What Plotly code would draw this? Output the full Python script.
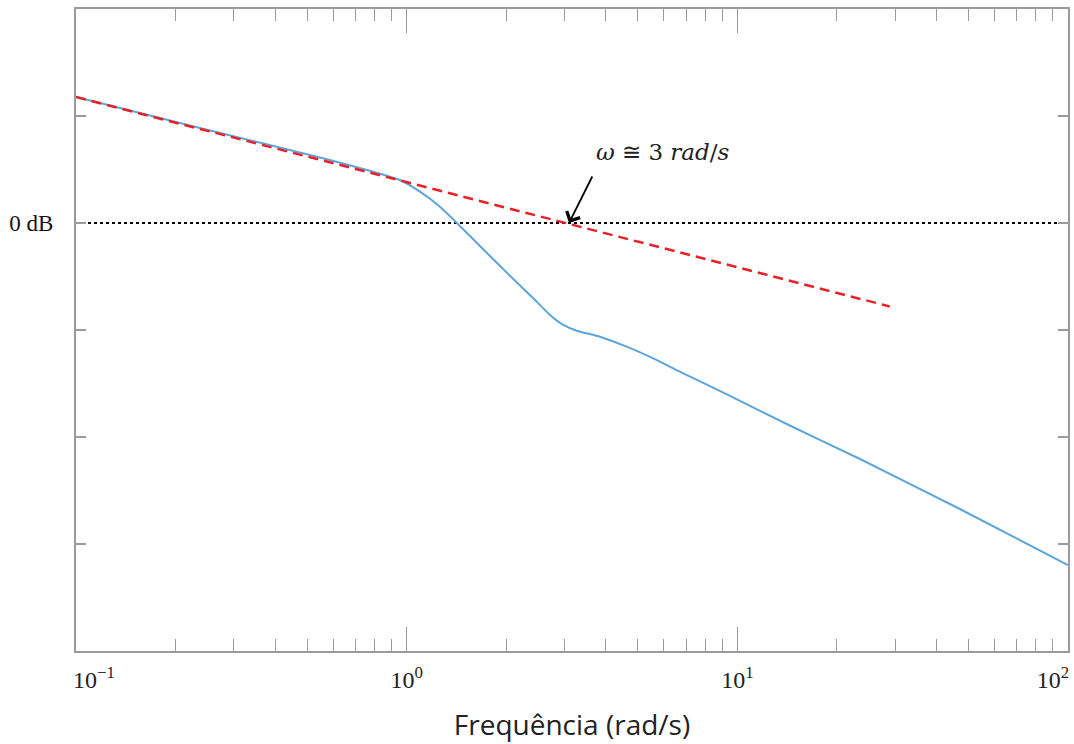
import plotly.graph_objects as go

# Blue magnitude curve (frequency in rad/s, magnitude in dB)
w_sys = [0.1, 0.237, 0.586, 0.954, 1.097, 1.261, 1.416, 1.704, 2.053, 2.414, 2.713,
         2.976, 3.266, 3.842, 4.626, 5.567, 6.863, 9.30, 14.72, 23.5, 47.1, 100.0]
db_sys = [23.55, 17.76, 11.78, 8.04, 5.85, 3.05, 0.06, -4.9, -9.87, -14.07, -17.19,
          -19.06, -20.13, -21.25, -23.12, -25.29, -28.09, -32.05, -38.13, -44.11, -53.46, -63.93]

# Red dashed asymptote
w_asym = [0.1, 28.9]
db_asym = [23.55, -15.6]

# 0 dB reference
w_zero = [0.1, 100.0]
db_zero = [0.0, 0.0]

NB = "\u00a0"
x_tickvals = [0.1, 1, 10, 100]
x_ticktext = [NB * 6 + "10<sup>−1</sup>", "10<sup>0</sup>", "10<sup>1</sup>", "10<sup>2</sup>" + NB * 5]
y_tickvals = [-60, -40, -20, 0, 20]
y_ticktext = ["", "", "", "0 dB", ""]

axis_color = "#9a9a9a"

fig = go.Figure()
fig.add_trace(go.Scatter(x=w_zero, y=db_zero, mode="lines",
                         line=dict(color="black", width=2, dash="dot"), showlegend=False))
fig.add_trace(go.Scatter(x=w_sys, y=db_sys, mode="lines",
                         line=dict(color="#5DA5DA", width=2, shape="spline", smoothing=0.4),
                         showlegend=False))
fig.add_trace(go.Scatter(x=w_asym, y=db_asym, mode="lines",
                         line=dict(color="#E8202A", width=2.5, dash="10px,6px"), showlegend=False))

# arrow to crossing point
fig.add_annotation(x=0.491, y=0, xref="x", yref="y", text="", showarrow=True,
                   ax=24, ay=-48, arrowhead=4, arrowsize=1.6, arrowwidth=1.8,
                   arrowcolor="black", standoff=0)
fig.add_annotation(x=0.7765, y=13.3, xref="x", yref="y",
                   text="<i>ω</i> ≅ 3 <i>rad</i>/<i>s</i>", showarrow=False,
                   font=dict(family="DejaVu Serif", size=23, color="#222"))

fig.update_xaxes(type="log", range=[-1, 2], tickvals=x_tickvals, ticktext=x_ticktext,
                 ticks="inside", ticklen=24, tickwidth=1, tickcolor=axis_color,
                 showline=True, linecolor=axis_color, linewidth=2, mirror="allticks",
                 showgrid=False, zeroline=False, ticklabeloverflow="allow",
                 ticklabelstandoff=6, automargin=False,
                 minor=dict(ticks="inside", ticklen=12, tickcolor=axis_color, tickwidth=1,
                            dtick="D1", showgrid=False),
                 tickfont=dict(family="Liberation Serif", size=24, color="#222"),
                 title=dict(text="Frequência (rad/s)", standoff=24,
                            font=dict(family="Open Sans", size=28, color="#222")))
fig.update_yaxes(range=[-80, 40], tickvals=y_tickvals, ticktext=y_ticktext,
                 ticks="inside", ticklen=10, tickwidth=2, tickcolor=axis_color,
                 showline=True, linecolor=axis_color, linewidth=2, mirror="allticks",
                 showgrid=False, zeroline=False, ticklabelstandoff=16, automargin=False,
                 tickfont=dict(family="Liberation Serif", size=23, color="#111"))

fig.update_layout(width=1074, height=744, margin=dict(l=76, r=6, t=9, b=93),
                  plot_bgcolor="white", paper_bgcolor="white")

fig.write_html("out.html", config={"displayModeBar": False},
               post_script="document.body.style.margin='0';document.body.style.overflow='hidden';")
